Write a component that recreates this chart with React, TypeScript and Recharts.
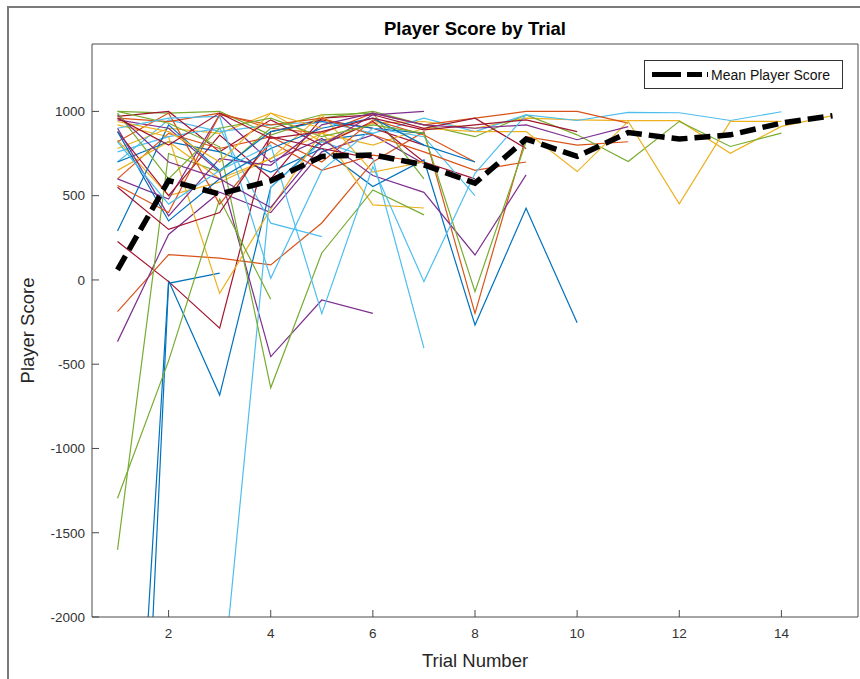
import React from 'react';
import { LineChart, Line, XAxis, YAxis, Legend } from 'recharts';

// ---------- data ----------
const trials = [1, 2, 3, 4, 5, 6, 7, 8, 9, 10, 11, 12, 13, 14, 15];
const xTicks = [2, 4, 6, 8, 10, 12, 14];
const yTicks = [-2000, -1500, -1000, -500, 0, 500, 1000];

const meanScores = [60, 590, 510, 588, 733, 742, 683, 574, 836, 733, 875, 836, 861, 931, 974];

// individual players (score per trial, in plotting order)
const player01 = [-5000, -5, -683, 550, 830, 870];
const player02 = [-188, 150, 130, 89, 338, 700, 880, -198, 850, 800, 820];
const player03 = [780, 900, 870, 990, 820, 930, 940, 900, 960, 950, 945, 945, 752, 911, 975];
const player04 = [-366, 270, 520, 400, 760, 860, 690];
const player05 = [1000, 990, 1000, 860, 960, 1000, 920, 850, 979, 861, 703, 941, 792, 871];
const player06 = [700, 950, 880, 920, 940, 870, 960, 880, 980, 946, 994, 992, 946, 998];
const player07 = [228, -10, -286, 880, 950, 900, 800];

const player08 = [-6500, -20, 40];
const player09 = [960, 940, 990, 900, 870, 990, 920, 960, 1000, 1000, 931];
const player10 = [830, 500, 580, 720, 870, 800, 900, 880, 880, 643, 941, 451, 941, 941];
const player11 = [950, 900, 640, -455, -119, -198];
const player12 = [-1602, 750, 640, 900, 980, 990, 600];
const player13 = [-4000, -6000, -2580, 550, 820, 720, -405];
const player14 = [970, 1000, 760, 950, 800, 940, 700, 600];

const player15 = [700, 820, 760, 640, 780, 554, 712, -267, 425, -254];
const player16 = [600, 870, 780, 850, 700, 950, 860, 700];
const player17 = [920, 850, -80, 420, 880, 445, 427];
const player18 = [600, 480, 980, 700, 840, 620, 520, 148, 623];
const player19 = [-1295, -480, 480, -115];
const player20 = [760, 850, 900, 337, 257];
const player21 = [880, 500, 860, 600, 960, 980, 900, 960, 780];

const player22 = [290, 920, 650, 880, 940, 900, 870];
const player23 = [820, 990, 450, 820, 650, 740, 700];
const player24 = [650, 820, 600, 720, 980, 640, 700];
const player25 = [900, 380, 720, 680, 920, 990, 920, 900, 920, 832, 910];
const player26 = [1000, 930, 790, -640, 160, 534, 386];
const player27 = [900, 960, 970, 10, 650, 900, 850, 500];
const player28 = [550, 300, 400, 850, 780, 720];

const player29 = [880, 350, 600, 780, 900, 960, 800, 700];
const player30 = [560, 400, 980, 920, 960, 860, 760, 650, 700];
const player31 = [940, 880, 700, 990, 900];
const player32 = [980, 700, 600, 430, 800, 980, 1000];
const player33 = [990, 600, 900, 960, 850, 920, 870, -69, 820];
const player34 = [820, 450, 650, 800, -200, 673, -10, 633, 979];
const player35 = [960, 800, 990, 840, 880, 960, 890, 920, 950, 880];

const players = [
  player01, player02, player03, player04, player05, player06, player07,
  player08, player09, player10, player11, player12, player13, player14,
  player15, player16, player17, player18, player19, player20, player21,
  player22, player23, player24, player25, player26, player27, player28,
  player29, player30, player31, player32, player33, player34, player35,
];

// MATLAB default colour order
const palette = ['#0072BD', '#D95319', '#EDB120', '#7E2F8E', '#77AC30', '#4DBEEE', '#A2142F'];

const data = trials.map((t, i) => {
  const row: Record<string, number | null> = { trial: t, mean: meanScores[i] };
  players.forEach((p, j) => {
    row['p' + j] = i < p.length ? p[i] : null;
  });
  return row;
});

const FONT = "'Liberation Sans', Arial, Helvetica, sans-serif";
const AXIS = '#4a4a4a';
const FRAME = '#7a7a7a';

const LegendBox = (props: any) => {
  const items = (props.payload || []).filter((e: any) => e.value === 'Mean Player Score');
  return (
    <div
      style={{
        boxSizing: 'border-box',
        width: 199,
        height: 29,
        border: '1px solid #333',
        background: '#fff',
        display: 'flex',
        alignItems: 'center',
        fontFamily: FONT,
      }}
    >
      {items.map((e: any) => (
        <React.Fragment key={e.value}>
          <svg width={66} height={27} style={{ flex: 'none' }}>
            <line x1={7} y1={13.5} x2={63} y2={13.5} stroke="#000" strokeWidth={5} strokeDasharray="29 6 15 5" />
          </svg>
          <span style={{ fontSize: 14, color: '#111', whiteSpace: 'nowrap' }}>{e.value}</span>
        </React.Fragment>
      ))}
    </div>
  );
};

export default function App() {
  return (
    <div
      style={{
        position: 'fixed',
        left: 0,
        top: 0,
        width: 860,
        height: 679,
        overflow: 'hidden',
        background: '#fff',
        fontFamily: FONT,
      }}
    >
      <div style={{ position: 'absolute', left: 0, top: 0 }}>
        <LineChart width={860} height={679} data={data} margin={{ top: 43, right: 1, bottom: 0, left: 0 }}>
          <XAxis
            dataKey="trial"
            type="number"
            domain={[0.5, 15.5]}
            ticks={xTicks}
            interval={0}
            height={62}
            stroke={AXIS}
            tickSize={-7}
            tickMargin={18}
            tick={{ fill: '#333', fontSize: 13.5, fontFamily: FONT }}
            label={{ value: 'Trial Number', position: 'insideBottom', offset: 12, fill: '#262626', fontSize: 18.5, fontFamily: FONT }}
          />
          <XAxis
            xAxisId="top"
            orientation="top"
            type="number"
            domain={[0.5, 15.5]}
            ticks={xTicks}
            interval={0}
            height={1}
            stroke={AXIS}
            tickSize={-7}
            tick={false}
            label={{ value: 'Player Score by Trial', position: 'top', offset: 8, fill: '#000', fontSize: 18.5, fontWeight: 'bold', fontFamily: FONT }}
          />
          <YAxis
            type="number"
            domain={[-2000, 1400]}
            allowDataOverflow
            ticks={yTicks}
            interval={0}
            width={92}
            stroke={AXIS}
            tickSize={-7}
            tickMargin={14}
            tick={{ fill: '#333', fontSize: 13.5, fontFamily: FONT }}
            label={{ value: 'Player Score', position: 'center', angle: -90, dx: -19, fill: '#262626', fontSize: 18.5, fontFamily: FONT }}
          />
          <YAxis
            yAxisId="right"
            orientation="right"
            type="number"
            domain={[-2000, 1400]}
            allowDataOverflow
            ticks={yTicks}
            interval={0}
            width={1}
            stroke={AXIS}
            tickSize={-7}
            tick={false}
          />
          <Legend
            layout="horizontal"
            verticalAlign="middle"
            align="center"
            wrapperStyle={{ left: 644, top: 60, width: 199, height: 29 }}
            content={<LegendBox />}
          />
          {players.map((_, j) => (
            <Line
              key={'p' + j}
              dataKey={'p' + j}
              stroke={palette[j % palette.length]}
              strokeWidth={1.2}
              dot={false}
              activeDot={false}
              legendType="none"
              connectNulls={false}
              isAnimationActive={false}
            />
          ))}
          <Line
            dataKey="mean"
            name="Mean Player Score"
            stroke="#000"
            strokeWidth={5.5}
            strokeDasharray="16 7"
            dot={false}
            activeDot={false}
            isAnimationActive={false}
          />
        </LineChart>
      </div>
      <div style={{ position: 'absolute', left: 7, top: 6, width: 853, height: 2, background: FRAME, pointerEvents: 'none' }} />
      <div style={{ position: 'absolute', left: 7, top: 6, width: 2, height: 673, background: FRAME, pointerEvents: 'none' }} />
    </div>
  );
}
